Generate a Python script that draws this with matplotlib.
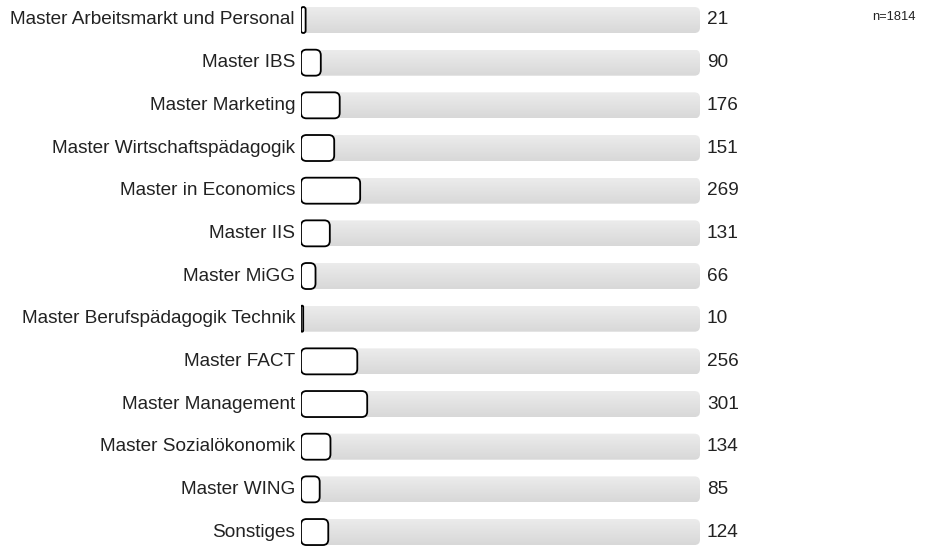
import numpy as np
import matplotlib.pyplot as plt
from matplotlib.patches import FancyBboxPatch

plt.rcParams["font.family"] = ["Liberation Sans", "DejaVu Sans"]

categories = [
    "Master Arbeitsmarkt und Personal",
    "Master IBS",
    "Master Marketing",
    "Master Wirtschaftspädagogik",
    "Master in Economics",
    "Master IIS",
    "Master MiGG",
    "Master Berufspädagogik Technik",
    "Master FACT",
    "Master Management",
    "Master Sozialökonomik",
    "Master WING",
    "Sonstiges",
]
counts = [21, 90, 176, 151, 269, 131, 66, 10, 256, 301, 134, 85, 124]
n_total = 1814

W, H = 944, 546
fig = plt.figure(figsize=(W / 100, H / 100), dpi=100)

# bar area in pixels
x_left, x_width = 301, 399
row0, step = 20.0, 42.67
bar_h_px = 26
ax = fig.add_axes([x_left / W, 0, x_width / W, 1])
ax.set_xlim(0, n_total)
ax.set_ylim((H - row0) / step, -row0 / step)
ax.axis("off")

xu = n_total / x_width          # x units per pixel
yu = 1.0 / step                 # y units per pixel
aspect = yu / xu
bar_h = bar_h_px * yu
r_px = 5.5

grad = np.linspace(0, 1, 64).reshape(-1, 1)
grey_cmap = plt.matplotlib.colors.LinearSegmentedColormap.from_list(
    "g", ["#ececec", "#d8d8d8"])

for i, (cat, v) in enumerate(zip(categories, counts)):
    y0 = i - bar_h / 2
    bg = FancyBboxPatch((0, y0), n_total, bar_h,
                        boxstyle=f"round,pad=0,rounding_size={r_px * xu}",
                        mutation_aspect=aspect, facecolor="none",
                        edgecolor="none")
    ax.add_patch(bg)
    im = ax.imshow(grad, cmap=grey_cmap, aspect="auto",
                   extent=(0, n_total, y0 + bar_h, y0), zorder=1)
    im.set_clip_path(bg)

    w = v
    r = min(r_px, (w / xu) / 2)
    fg = FancyBboxPatch((0, y0), w, bar_h,
                        boxstyle=f"round,pad=0,rounding_size={r * xu}",
                        mutation_aspect=aspect, facecolor="white",
                        edgecolor="black", linewidth=1.3, zorder=3)
    ax.add_patch(fg)

    ax.text(-6 * xu, i, cat, ha="right", va="center", fontsize=13.7,
            color="#222222", clip_on=False)
    ax.text(n_total + 7 * xu, i, str(v), ha="left", va="center",
            fontsize=13.7, color="#222222", clip_on=False)

fig.text(894 / W, 1 - 17 / H, f"n={n_total}", ha="center", va="center",
         fontsize=9.3, color="#222222")

fig.savefig("out.png", dpi=100)
